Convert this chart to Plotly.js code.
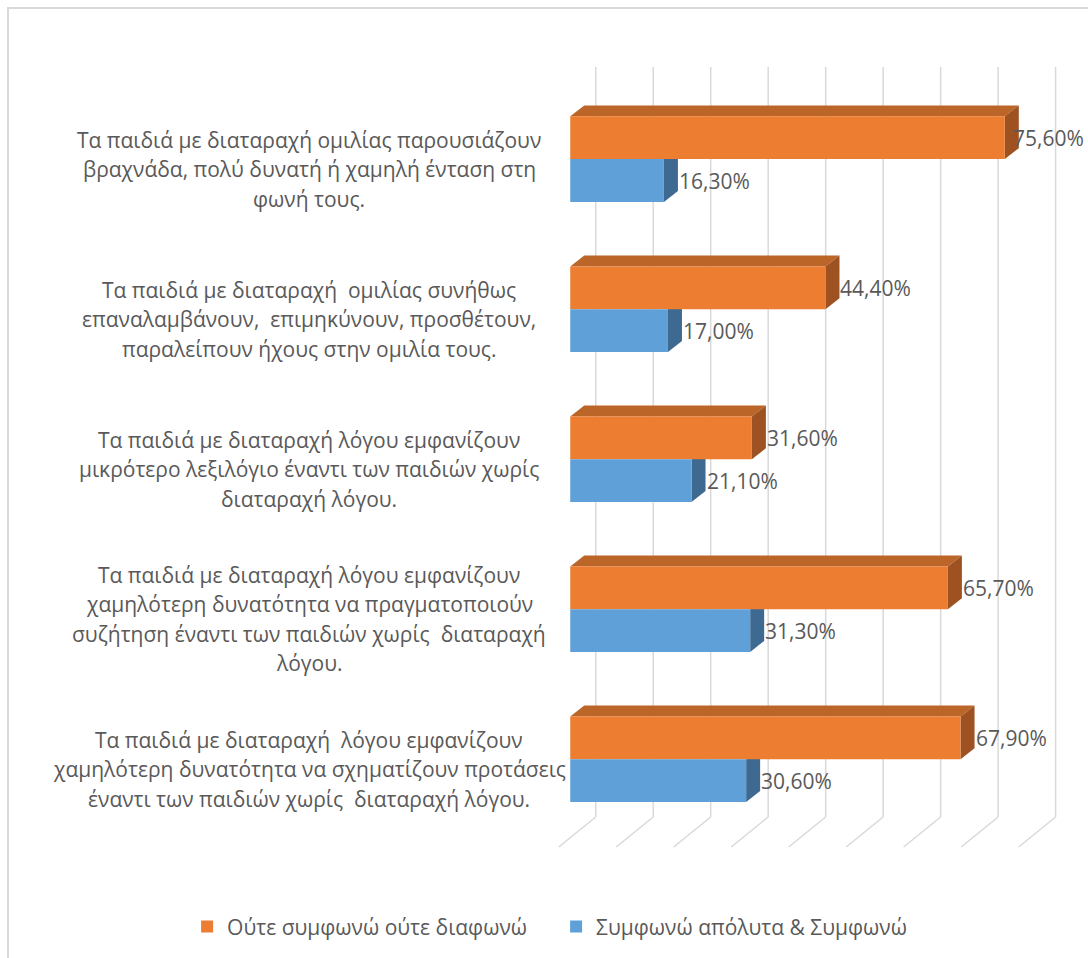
<!DOCTYPE html>
<html>
<head>
<meta charset="utf-8">
<script src="https://cdn.plot.ly/plotly-3.0.1.min.js"></script>
<style>
  html, body { margin: 0; padding: 0; background: #ffffff; }
  #wrap { position: relative; width: 1088px; height: 958px; overflow: hidden; }
  #frame { position: absolute; left: 7px; top: 7px; width: 1100px; height: 1000px;
           border-left: 2px solid #d9d9d9; border-top: 2px solid #d9d9d9; pointer-events: none; }
  #chart { position: absolute; left: 0; top: 0; width: 1088px; height: 958px; }
</style>
</head>
<body>
<div id="wrap">
  <div id="chart"></div>
  <div id="frame"></div>
</div>
<script>
// ---- data ----
const categories = [
  "Τα παιδιά με διαταραχή ομιλίας παρουσιάζουν<br>βραχνάδα, πολύ δυνατή ή χαμηλή ένταση στη<br>φωνή τους.",
  "Τα παιδιά με διαταραχή  ομιλίας συνήθως<br>επαναλαμβάνουν,  επιμηκύνουν, προσθέτουν,<br>παραλείπουν ήχους στην ομιλία τους.",
  "Τα παιδιά με διαταραχή λόγου εμφανίζουν<br>μικρότερο λεξιλόγιο έναντι των παιδιών χωρίς<br>διαταραχή λόγου.",
  "Τα παιδιά με διαταραχή λόγου εμφανίζουν<br>χαμηλότερη δυνατότητα να πραγματοποιούν<br>συζήτηση έναντι των παιδιών χωρίς  διαταραχή<br>λόγου.",
  "Τα παιδιά με διαταραχή  λόγου εμφανίζουν<br>χαμηλότερη δυνατότητα να σχηματίζουν προτάσεις<br>έναντι των παιδιών χωρίς  διαταραχή λόγου."
];
const seriesNames = ["Ούτε συμφωνώ ούτε διαφωνώ", "Συμφωνώ απόλυτα & Συμφωνώ"];
const neutralValues = [75.6, 44.4, 31.6, 65.7, 67.9];
const agreeValues   = [16.3, 17.0, 21.1, 31.3, 30.6];
const gridTicks = [0, 10, 20, 30, 40, 50, 60, 70, 80];

// ---- styling ----
const FONT = '"Open Sans", "Noto Sans", "DejaVu Sans", sans-serif';
const TXT = '#595959';
const orange = { front: '#ED7D31', top: '#BB6528', side: '#9E5221' };
const blue   = { front: '#5FA0D8', side: '#3E6A92' };

const pxPerUnit = 5.75;          // horizontal scale
const pxPerCat = 150.25;         // vertical scale
const barW = 0.285;              // bar thickness (category units)
const depthX = 14 / pxPerUnit;   // 3D depth offset (x units)
const depthY = 11 / pxPerCat;    // 3D depth offset (y units, upward)
const backOff = 25.5 / pxPerUnit;
const floorDX = 37 / pxPerUnit;

const yPos = categories.map((_, i) => i);
const fmt = v => v.toFixed(2).replace('.', ',') + '%';

const traces = [
  { type: 'bar', orientation: 'h', name: seriesNames[0], x: neutralValues, y: yPos,
    width: barW, offset: -barW, marker: { color: orange.front, line: { width: 0 } },
    hoverinfo: 'skip' },
  { type: 'bar', orientation: 'h', name: seriesNames[1], x: agreeValues, y: yPos,
    width: barW, offset: 0, marker: { color: blue.front, line: { width: 0 } },
    hoverinfo: 'skip' }
];

const shapes = [];
// back-wall grid lines and floor diagonals
gridTicks.forEach(t => {
  const gx = t + backOff;
  shapes.push({ type: 'line', xref: 'x', yref: 'paper', x0: gx, x1: gx, y0: 0, y1: 1,
    line: { color: '#d9d9d9', width: 1.5 }, layer: 'below' });
  shapes.push({ type: 'line', xref: 'x', yref: 'paper', x0: gx, x1: gx - floorDX, y0: 0, y1: -30 / 751,
    line: { color: '#d9d9d9', width: 1.5 }, layer: 'below' });
});
// 3D faces derived from data
yPos.forEach((c, i) => {
  const v = neutralValues[i];
  const yt = c - barW, yb = c;
  shapes.push({ type: 'path', xref: 'x', yref: 'y', layer: 'between', line: { width: 0 },
    fillcolor: orange.top,
    path: `M0,${yt} L${v},${yt} L${v + depthX},${yt - depthY} L${depthX},${yt - depthY} Z` });
  shapes.push({ type: 'path', xref: 'x', yref: 'y', layer: 'between', line: { width: 0 },
    fillcolor: orange.side,
    path: `M${v},${yt} L${v + depthX},${yt - depthY} L${v + depthX},${yb - depthY} L${v},${yb} Z` });
  const b = agreeValues[i];
  const bt = c, bb = c + barW;
  shapes.push({ type: 'path', xref: 'x', yref: 'y', layer: 'between', line: { width: 0 },
    fillcolor: blue.side,
    path: `M${b},${bt} L${b + depthX},${bt - depthY} L${b + depthX},${bb - depthY} L${b},${bb} Z` });
});

const annotations = [];
// value labels
yPos.forEach((c, i) => {
  const v = neutralValues[i];
  annotations.push({ xref: 'x', yref: 'y', x: v, y: c - barW / 2, text: fmt(v),
    showarrow: false, xanchor: 'left', yanchor: 'middle', xshift: v > 75 ? 6 : 13,
    font: { family: FONT, size: 21, color: TXT } });
  const b = agreeValues[i];
  annotations.push({ xref: 'x', yref: 'y', x: b, y: c + barW / 2, text: fmt(b),
    showarrow: false, xanchor: 'left', yanchor: 'middle', xshift: 13,
    font: { family: FONT, size: 21, color: TXT } });
});
// category labels (centered, line by line)
const labelCenterPaperX = (309 - 553) / 507.15;
const lineGap = 29.5;
yPos.forEach((c, i) => {
  const lines = categories[i].split('<br>');
  lines.forEach((ln, k) => {
    annotations.push({ xref: 'paper', yref: 'y', x: labelCenterPaperX, y: c, text: ln,
      showarrow: false, xanchor: 'center', yanchor: 'middle',
      yshift: -10 - (k - (lines.length - 1) / 2) * lineGap,
      font: { family: FONT, size: 21, color: TXT } });
  });
});

const layout = {
  width: 1088, height: 958,
  margin: { l: 553, r: 28, t: 67, b: 140 },
  paper_bgcolor: 'rgba(0,0,0,0)', plot_bgcolor: 'rgba(0,0,0,0)',
  showlegend: true,
  xaxis: { range: [-3, 85.2], showgrid: false, zeroline: false, showticklabels: false,
           showline: false, ticks: '', fixedrange: true },
  yaxis: { range: [4.385, -0.614], showgrid: false, zeroline: false, showticklabels: false,
           showline: false, ticks: '', fixedrange: true },
  legend: { orientation: 'h', x: (187 - 553) / 507.15, xanchor: 'left', y: -0.145, yanchor: 'middle',
            font: { family: FONT, size: 21, color: TXT }, entrywidth: 324, entrywidthmode: 'pixels',
            bgcolor: 'rgba(0,0,0,0)' },
  shapes: shapes,
  annotations: annotations,
  font: { family: FONT, color: TXT }
};

Plotly.newPlot('chart', traces, layout, { displayModeBar: false, staticPlot: true });
</script>
</body>
</html>
